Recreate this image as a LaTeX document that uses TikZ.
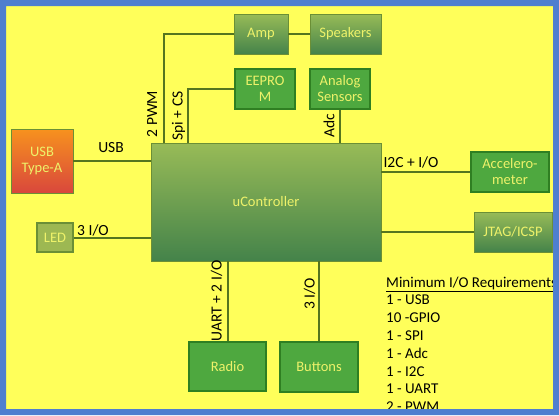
\documentclass[tikz,border=0pt]{standalone}
\usepackage{fontspec}
\setmainfont{Carlito}
\usetikzlibrary{positioning}

\definecolor{bgyellow}{HTML}{FFFF5A}
\definecolor{framecol}{HTML}{4F7FCF}
\definecolor{wirecol}{HTML}{55751F}
\definecolor{boxtext}{HTML}{EEF26A}
\definecolor{gradtop}{HTML}{98BB57}
\definecolor{gradbot}{HTML}{44834A}
\definecolor{gradline}{HTML}{6B8F36}
\definecolor{solidfill}{HTML}{4EA83F}
\definecolor{solidline}{HTML}{2F7F22}
\definecolor{ledfill}{HTML}{9DB852}
\definecolor{usbtop}{HTML}{F7921E}
\definecolor{usbmid}{HTML}{EA7A30}
\definecolor{usbbot}{HTML}{D9473C}

\tikzset{
  box/.style={inner sep=0pt, align=center, text=boxtext,
    font=\fontsize{14.5}{16}\selectfont},
  gradbox/.style={box, draw=gradline, line width=0.8pt,
    top color=gradtop, bottom color=gradbot},
  solidbox/.style={box, draw=solidline, line width=1.5pt, fill=solidfill},
  wire/.style={wirecol, line width=2pt},
  lbl/.style={inner sep=0pt, font=\fontsize{15.5}{17}\selectfont}
}

\begin{document}
\begin{tikzpicture}[x=1pt,y=-1pt]
\useasboundingbox (0,0) rectangle (559,415);
\fill[bgyellow] (0,0) rectangle (559,415);

% Nodes
\node[gradbox, minimum width=54pt, minimum height=40pt] (amp) at (261,34) {Amp};
\node[gradbox, minimum width=71pt, minimum height=40pt] (spk) at (345.5,34) {Speakers};
\node[solidbox, minimum width=60pt, minimum height=40pt] (eeprom) at (265,89) {EEPRO\\M};
\node[solidbox, minimum width=60pt, minimum height=40pt] (analog) at (340,89) {Analog\\Sensors};
\node[gradbox, minimum width=230pt, minimum height=118pt] (uc) at (266,202) {uController};
\node[box, draw=gradline, line width=0.8pt, top color=usbtop, middle color=usbmid,
  bottom color=usbbot, minimum width=62pt, minimum height=64pt] (usb) at (42,161) {USB\\Type-A};
\node[box, draw=gradline, line width=1.2pt, fill=ledfill, minimum width=36pt, minimum height=29pt] (led) at (55,237.5) {LED};
\node[solidbox, minimum width=78pt, minimum height=40pt] (acc) at (510,172) {Accelero-\\meter};
\node[gradbox, minimum width=78pt, minimum height=40pt] (jtag) at (513,232) {JTAG/ICSP};
\node[solidbox, minimum width=77pt, minimum height=49pt] (radio) at (227.5,366.5) {Radio};
\node[solidbox, minimum width=78pt, minimum height=50pt] (buttons) at (319,367) {Buttons};

\coordinate (ucpwm) at (164,143);
\coordinate (ucspi) at (188,143);

% Lines
\draw[wire] (amp) -- (spk);
\draw[wire] (amp.west) -| (ucpwm);
\draw[wire] (eeprom.west) -| (ucspi);
\draw[wire] (analog.south) -- (analog.south |- uc.north);
\draw[wire] (usb.east) -- (usb.east -| uc.west);
\draw[wire] (led.east) -- (led.east -| uc.west);
\draw[wire] (acc.west) -- (acc.west -| uc.east);
\draw[wire] (jtag.west) -- (jtag.west -| uc.east);
\draw[wire] (radio.north) -- (radio.north |- uc.south);
\draw[wire] (buttons.north) -- (buttons.north |- uc.south);

% Labels
\node[lbl] (lblusb) at (111,148) {USB};
\node[lbl, rotate=90] (lblpwm) at (152,114) {2 PWM};
\node[lbl, rotate=90] (lblspi) at (178.5,116) {Spi + CS};
\node[lbl, rotate=90] (lbladc) at (329,126) {Adc};
\node[lbl] (lbli2c) at (411,162) {I2C + I/O};
\node[lbl] (lblled) at (93,230) {3 I/O};
\node[lbl, rotate=90] (lbluart) at (216.5,301) {UART + 2 I/O};
\node[lbl, rotate=90] (lblbtn) at (309.5,294) {3 I/O};

\node[lbl, anchor=north west, align=left, font=\fontsize{15}{17.8}\selectfont] (req) at (386,276.5)
  {\underline{Minimum I/O Requirements}\\1 - USB\\10 -GPIO\\1 - SPI\\1 - Adc\\1 - I2C\\1 - UART\\2 - PWM};

% Frame
\fill[framecol, even odd rule] (0,0) rectangle (559,415) (6,6) rectangle (553,409);
\end{tikzpicture}
\end{document}
